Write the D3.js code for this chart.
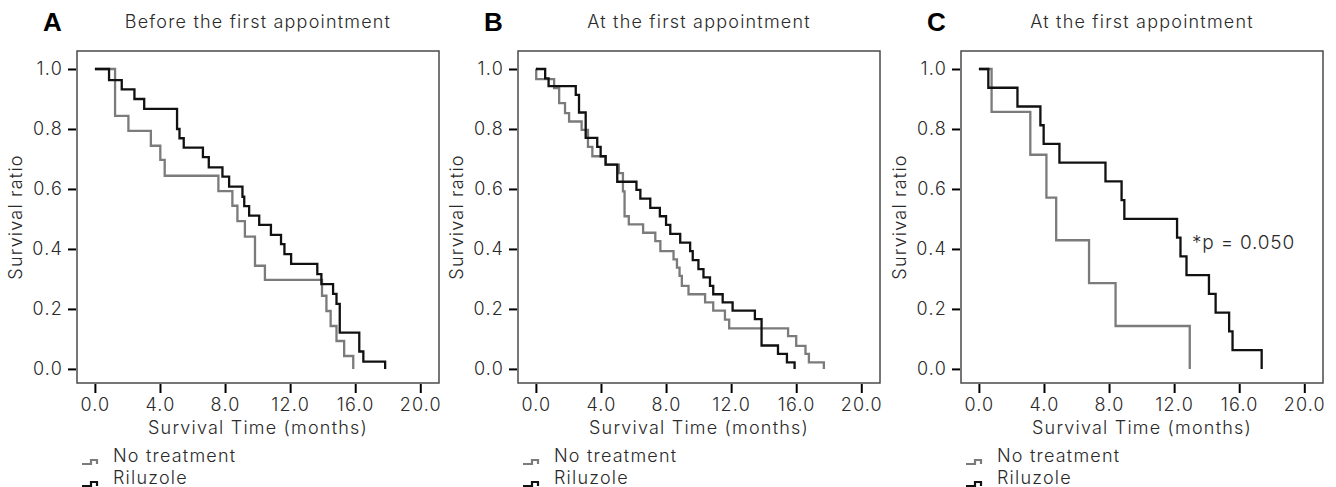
<!DOCTYPE html>
<html>
<head>
<meta charset="utf-8">
<script src="https://cdn.jsdelivr.net/npm/d3@7.9.0/dist/d3.min.js"></script>
<style>
  body { margin: 0; background: #fff; }
  svg text { font-family: 'Inter', 'Noto Sans', sans-serif; font-weight: 300; fill: #2a2a2a; letter-spacing: 1.2px; }
  svg text.letter { font-family: 'Liberation Sans', Arial, sans-serif; font-weight: bold; fill: #000; letter-spacing: 0; }
</style>
</head>
<body>
<svg id="chart" width="1336" height="487"></svg>
<script>
// panel text
const panelLetters = ['A', 'B', 'C'];
const panelTitles = ['Before the first appointment', 'At the first appointment', 'At the first appointment'];
const seriesNames = ['No treatment', 'Riluzole'];
const seriesColors = ['#7b7b7b', '#111111'];
const xTicks = [0, 4, 8, 12, 16, 20];
const yTicks = [0, 0.2, 0.4, 0.6, 0.8, 1.0];

// panel A - event times (months) and survival after each step
const aNoneTime = [1.24, 2.06, 3.44, 4.02, 4.29, 7.59, 8.45, 8.76, 9.22, 9.84, 10.45, 13.96, 14.23, 14.49, 14.85, 15.32, 15.88];
const aNoneSurv = [0.844, 0.794, 0.744, 0.697, 0.644, 0.593, 0.544, 0.493, 0.441, 0.344, 0.297, 0.244, 0.193, 0.143, 0.093, 0.043, 0];
const aRiluTime = [0.87, 1.65, 2.43, 3.03, 5.05, 5.2, 5.46, 6.64, 7.0, 7.84, 8.25, 9.07, 9.18, 9.48, 10.1, 10.82, 11.44, 11.65, 12.06, 13.67, 13.92, 14.64, 14.85, 15.05, 16.25, 16.5, 17.84];
const aRiluSurv = [0.963, 0.932, 0.9, 0.867, 0.8, 0.769, 0.738, 0.706, 0.672, 0.641, 0.608, 0.574, 0.543, 0.511, 0.48, 0.447, 0.416, 0.383, 0.35, 0.316, 0.283, 0.25, 0.217, 0.121, 0.058, 0.024, 0];

// panel B
const bNoneTime = [0.02, 1.12, 1.43, 1.79, 2.04, 2.81, 3.2, 3.47, 4.3, 5.1, 5.35, 5.45, 5.71, 6.59, 7.34, 7.65, 8.46, 8.67, 8.83, 8.97, 9.38, 10.4, 10.9, 11.62, 11.88, 15.5, 16.0, 16.57, 16.78, 17.7];
const bNoneSurv = [0.966, 0.936, 0.886, 0.853, 0.825, 0.797, 0.74, 0.709, 0.681, 0.653, 0.592, 0.509, 0.482, 0.454, 0.426, 0.393, 0.365, 0.338, 0.31, 0.277, 0.249, 0.222, 0.194, 0.164, 0.135, 0.109, 0.077, 0.05, 0.022, 0];
const bRiluTime = [0.57, 0.78, 2.45, 2.65, 3.06, 3.77, 3.98, 4.28, 5.0, 6.18, 6.42, 7.03, 7.62, 8.0, 8.26, 8.87, 9.48, 9.64, 9.99, 10.3, 10.7, 10.9, 11.48, 12.09, 13.46, 13.87, 14.88, 15.43, 15.9];
const bRiluSurv = [0.969, 0.943, 0.914, 0.855, 0.77, 0.74, 0.709, 0.681, 0.624, 0.597, 0.568, 0.537, 0.509, 0.48, 0.45, 0.421, 0.393, 0.363, 0.333, 0.305, 0.277, 0.249, 0.222, 0.194, 0.166, 0.078, 0.05, 0.022, 0];

// panel C
const cNoneTime = [0.78, 3.16, 4.15, 4.75, 6.77, 8.4, 12.96];
const cNoneSurv = [0.857, 0.714, 0.571, 0.429, 0.286, 0.143, 0];
const cRiluTime = [0.58, 2.37, 3.78, 3.98, 4.95, 7.78, 8.77, 8.94, 12.18, 12.39, 12.76, 14.14, 14.55, 15.38, 15.59, 17.38];
const cRiluSurv = [0.9375, 0.875, 0.8125, 0.75, 0.6875, 0.625, 0.5625, 0.5, 0.4375, 0.375, 0.3125, 0.25, 0.1875, 0.125, 0.0625, 0];

const pValueLabel = '*p = 0.050';

const panelSeries = [
  [[aNoneTime, aNoneSurv], [aRiluTime, aRiluSurv]],
  [[bNoneTime, bNoneSurv], [bRiluTime, bRiluSurv]],
  [[cNoneTime, cNoneSurv], [cRiluTime, cRiluSurv]]
];

const panelLeft = [77, 518, 961];
const boxW = 362, boxTop = 51, boxH = 332;

const svg = d3.select('#chart');

function toPoints(times, surv) {
  const pts = [{ t: 0, s: 1 }];
  times.forEach((t, i) => pts.push({ t: t, s: surv[i] }));
  return pts;
}

panelLeft.forEach((left, p) => {
  const x = d3.scaleLinear().domain([-1.1, 21.15]).range([left, left + boxW]);
  const y = d3.scaleLinear().domain([-0.047, 1.06]).range([boxTop + boxH, boxTop]);
  const cx = left + boxW / 2;

  svg.append('text').attr('class', 'letter')
    .attr('x', left - 34).attr('y', 31)
    .style('font-size', '26px')
    .text(panelLetters[p]);

  svg.append('text')
    .attr('x', cx).attr('y', 28)
    .attr('text-anchor', 'middle')
    .style('font-size', '18px')
    .text(panelTitles[p]);

  svg.append('rect')
    .attr('x', left).attr('y', boxTop)
    .attr('width', boxW).attr('height', boxH)
    .attr('fill', 'none').attr('stroke', '#4a4a4a').attr('stroke-width', 1.5);

  const yAxis = svg.append('g')
    .attr('transform', `translate(${left - 1},0)`)
    .call(d3.axisLeft(y).tickValues(yTicks).tickSize(8).tickPadding(5).tickFormat(d3.format('.1f')));
  const xAxis = svg.append('g')
    .attr('transform', `translate(0,${boxTop + boxH + 1})`)
    .call(d3.axisBottom(x).tickValues(xTicks).tickSize(9).tickPadding(5).tickFormat(d3.format('.1f')));
  [yAxis, xAxis].forEach(g => {
    g.attr('font-family', null).attr('font-size', null);
    g.select('.domain').remove();
    g.selectAll('.tick line').attr('stroke', '#000').attr('stroke-width', 2);
    g.selectAll('.tick text').style('font-size', '18px').style('fill', '#2a2a2a');
  });

  svg.append('text')
    .attr('transform', `translate(${left - 55},${boxTop + boxH / 2}) rotate(-90)`)
    .attr('text-anchor', 'middle')
    .style('font-size', '18px')
    .text('Survival ratio');

  svg.append('text')
    .attr('x', cx).attr('y', 434)
    .attr('text-anchor', 'middle')
    .style('font-size', '18px')
    .text('Survival Time (months)');

  const line = d3.line()
    .x(d => x(d.t))
    .y(d => y(d.s))
    .curve(d3.curveStepAfter);

  panelSeries[p].forEach(([times, surv], i) => {
    svg.append('path')
      .datum(toPoints(times, surv))
      .attr('d', line)
      .attr('fill', 'none')
      .attr('stroke', seriesColors[i])
      .attr('stroke-width', 2.3);
  });

  // legend
  seriesNames.forEach((name, i) => {
    const ly = 462 + i * 22;
    svg.append('path')
      .attr('d', `M${left + 5},${ly + 2} h9 v-4 h6 v4`)
      .attr('fill', 'none')
      .attr('stroke', seriesColors[i])
      .attr('stroke-width', 2.2);
    svg.append('text')
      .attr('x', left + 36).attr('y', ly)
      .style('font-size', '18px')
      .text(name);
  });

  if (p === 2) {
    svg.append('text')
      .attr('x', x(13.1)).attr('y', y(0.4))
      .style('font-size', '19px')
      .style('letter-spacing', '0.8px')
      .text(pValueLabel);
  }
});
</script>
</body>
</html>
